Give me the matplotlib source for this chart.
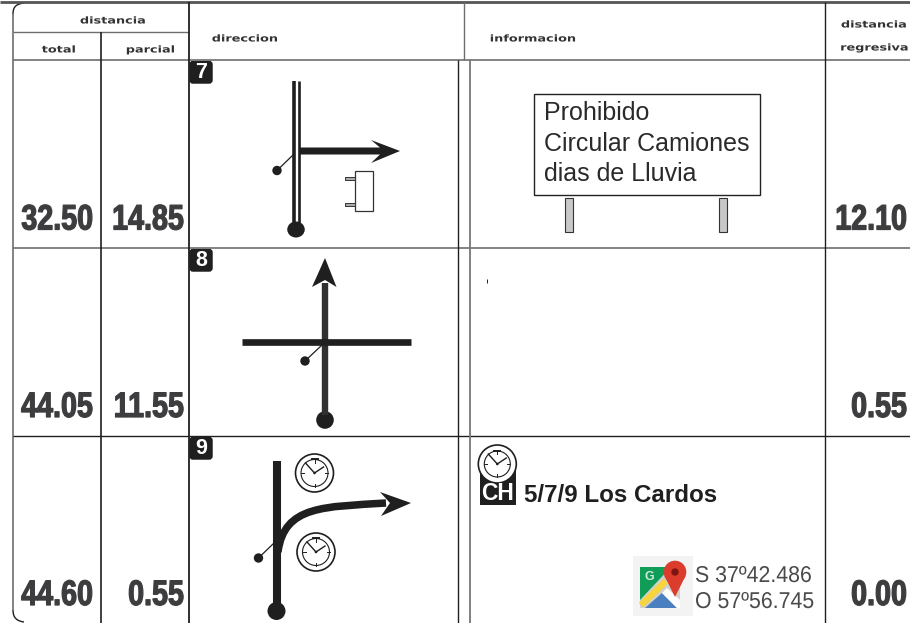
#!/usr/bin/env python3
import numpy as np
import matplotlib
matplotlib.use('Agg')
import matplotlib.pyplot as plt
import matplotlib.patheffects as pe
from matplotlib.patches import Circle, Ellipse, FancyBboxPatch, Polygon, Rectangle, PathPatch
from matplotlib.path import Path
from matplotlib.transforms import Affine2D

step_numbers = ['7', '8', '9']
total_km = ['32.50', '44.05', '44.60']
partial_km = ['14.85', '11.55', '0.55']
remaining_km = ['12.10', '0.55', '0.00']
sign_lines = ['Prohibido', 'Circular Camiones', 'dias de Lluvia']
info_text = '5/7/9 Los Cardos'
coords = ['S 37º42.486', 'O 57º56.745']

row_baselines = [229.5, 417, 605]
badge_tops = [61, 249, 437]

INK = '#1f1f1f'
NUM = '#3d3d3f'
GRID = '#6e6e6e'

fig = plt.figure(figsize=(9.10, 6.23), dpi=100)
ax = fig.add_axes([0, 0, 1, 1])
ax.set_xlim(0, 910)
ax.set_ylim(623, 0)
ax.axis('off')


class StretchX(pe.AbstractPathEffect):
    # squeeze or widen glyphs around the text anchor, no condensed font installed
    def __init__(self, x_anchor, factor, stroke=0):
        super().__init__()
        self.x_anchor = ax.transData.transform((x_anchor, 0))[0]
        self.factor = factor
        self.stroke = stroke

    def draw_path(self, renderer, gc, tpath, affine, rgbFace=None):
        squeeze = Affine2D().translate(-self.x_anchor, 0).scale(self.factor, 1).translate(self.x_anchor, 0)
        gc0 = renderer.new_gc()
        gc0.copy_properties(gc)
        if self.stroke:
            gc0.set_linewidth(self.stroke)
            gc0.set_foreground(rgbFace)
        renderer.draw_path(gc0, tpath, affine + squeeze, rgbFace)
        gc0.restore()


def stretched(x, y, s, factor, stroke=0, **kw):
    t = ax.text(x, y, s, **kw)
    t.set_path_effects([StretchX(x, factor, stroke)])
    return t


def hline(y, x0, x1, color=INK, lw=1.0):
    ax.plot([x0, x1], [y, y], color=color, lw=lw, solid_capstyle='butt')


def vline(x, y0, y1, color=INK, lw=1.0):
    ax.plot([x, x], [y0, y1], color=color, lw=lw, solid_capstyle='butt')


def leader(x0, y0, x1, y1):
    ax.plot([x0, x1], [y0, y1], color=INK, lw=0.9)
    ax.add_patch(Circle((x0, y0), 4.7, color=INK, lw=0))


def clock(cx, cy, r=19, r_in=13.5, lw=1.2):
    ax.add_patch(Circle((cx, cy), r, fc='white', ec=INK, lw=lw, zorder=4))
    ax.add_patch(Circle((cx, cy), r_in, fc='white', ec=INK, lw=0.8, zorder=4))
    for a in np.arange(0, 360, 90):
        s, c = np.sin(np.radians(a)), np.cos(np.radians(a))
        ax.plot([cx + s * (r_in - 3), cx + s * r_in], [cy - c * (r_in - 3), cy - c * r_in],
                color=INK, lw=0.7, zorder=5)
    ax.plot([cx - 3, cx + 3], [cy - r_in - 0.5, cy - r_in - 0.5], color=INK, lw=1.4, zorder=5)
    ax.plot([cx - 9, cx, cx + 9], [cy - 10, cy, cy - 6], color=INK, lw=1.0, zorder=5)
    ax.add_patch(Circle((cx, cy), 1.3, color=INK, lw=0, zorder=5))


# table frame
hline(1.5, 0, 910, color='#555555', lw=2.0)
vline(13, 14, 610, color=GRID, lw=1.2)
corner_top = Path([(13, 14), (13, 6), (17, 4), (24, 3)], [Path.MOVETO, Path.CURVE4, Path.CURVE4, Path.CURVE4])
corner_bot = Path([(13, 610), (13, 618), (17, 621), (24, 622)], [Path.MOVETO, Path.CURVE4, Path.CURVE4, Path.CURVE4])
ax.add_patch(PathPatch(corner_top, fc='none', ec=INK, lw=1.0))
ax.add_patch(PathPatch(corner_bot, fc='none', ec=INK, lw=1.0))
hline(31.5, 13, 189, color=GRID)
hline(60, 13, 910, color=GRID, lw=1.2)
hline(248, 13, 910, color=GRID, lw=1.2)
hline(436, 13, 910, color=INK, lw=1.0)
vline(101, 32, 623, lw=1.2)
vline(189, 2, 623, lw=1.3)
vline(464, 2, 60, color=GRID)
vline(458, 60, 623)
vline(470, 60, 623, color='#777777', lw=1.3)
vline(825, 2, 623)

# headers
head = dict(family='DejaVu Sans', weight='bold', fontsize=6.8, color='#333333', va='center', ha='center')
stretched(113, 21, 'distancia', 1.36, **head)
stretched(59, 50, 'total', 1.36, **head)
stretched(150.5, 50, 'parcial', 1.36, **head)
stretched(245, 39, 'direccion', 1.36, **head)
stretched(533, 39, 'informacion', 1.36, **head)
stretched(874, 25, 'distancia', 1.36, **head)
stretched(874.5, 48, 'regresiva', 1.36, **head)

# distance numbers and step badges
big = dict(family='Liberation Sans', weight='bold', fontsize=25.5, color=NUM, va='baseline', ha='right')
for i, base in enumerate(row_baselines):
    stretched(93, base, total_km[i], 0.81, stroke=0.9, **big)
    stretched(184, base, partial_km[i], 0.81, stroke=0.9, **big)
    stretched(907, base, remaining_km[i], 0.81, stroke=0.9, **big)
    top = badge_tops[i]
    ax.add_patch(FancyBboxPatch((191, top + 1.5), 20, 19.5, boxstyle='round,pad=0,rounding_size=2',
                                mutation_aspect=1, fc=INK, ec=INK, lw=2.5))
    ax.text(201, top + 11.5, step_numbers[i], family='Liberation Sans', weight='bold',
            fontsize=15.5, color='white', ha='center', va='center')

# step 7
vline(293.8, 81, 225, lw=2.6)
vline(298.7, 81, 225, lw=1.9)
ax.add_patch(Ellipse((296, 229.5), 17.5, 16, color=INK, lw=0))
ax.add_patch(Polygon([(299, 147.5), (380, 147.5), (371, 140), (400, 151), (371, 163),
                      (380, 154.5), (299, 154.5)], closed=True, fc=INK, ec='none'))
leader(277, 170.5, 293, 155)
ax.add_patch(Rectangle((355, 171), 17.5, 40, fc='white', ec='#333333', lw=0.9))
ax.add_patch(Rectangle((344.5, 176.5), 10.5, 3, fc='#aaaaaa', ec='#333333', lw=0.7))
ax.add_patch(Rectangle((344.5, 202.5), 10.5, 3, fc='#aaaaaa', ec='#333333', lw=0.7))

ax.add_patch(Rectangle((534, 94), 226, 101, fc='white', ec='#222222', lw=1.0))
for y, line in zip([120, 151, 181], sign_lines):
    ax.text(544, y, line, family='Liberation Sans', fontsize=18, color='#2a2a2a', va='baseline')
ax.add_patch(Rectangle((565, 197.5), 8, 34, fc='#c8c8c8', ec='#333333', lw=0.8))
ax.add_patch(Rectangle((719, 197.5), 8, 34, fc='#c8c8c8', ec='#333333', lw=0.8))

# step 8
vline(324.8, 283, 415, color='#303032', lw=4.6)
ax.add_patch(Circle((325, 420), 8.8, color=INK, lw=0))
ax.add_patch(Polygon([(325, 258), (336.5, 287), (325, 280), (312, 287)], closed=True, fc=INK, ec='none'))
hline(341.7, 242, 411, lw=4.8)
leader(305, 361, 322, 345)
vline(487, 279, 283, lw=0.7)

# step 9
vline(277, 461, 605, lw=5.8)
ax.add_patch(Circle((276.5, 611), 9, color=INK, lw=0))
curve = Path([(278, 552), (284, 505), (325, 507), (386, 503)],
             [Path.MOVETO, Path.CURVE4, Path.CURVE4, Path.CURVE4])
ax.add_patch(PathPatch(curve, fc='none', ec=INK, lw=5.4, capstyle='butt'))
ax.add_patch(Polygon([(411, 503), (381, 516), (390, 503), (380, 492)], closed=True, fc=INK, ec='none'))
leader(258.5, 558, 274, 543)
clock(314.5, 473)
clock(316, 552)

# info cell of step 9
ax.add_patch(Rectangle((480, 470), 35.5, 35, fc=INK, ec='none'))
clock(497.3, 464, r=19, r_in=13, lw=1.2)
ax.text(497.5, 494, 'CH', family='Liberation Sans', weight='bold', fontsize=16.5, color='white',
        ha='center', va='center', zorder=6)
ax.text(524, 502, info_text, family='Liberation Sans', weight='bold', fontsize=17.4, color=INK, va='baseline')

# maps icon
ax.add_patch(Rectangle((633, 556), 60, 60, fc='#f3f3f3', ec='none'))
ax.add_patch(Polygon([(640, 567), (680, 567), (680, 608), (640, 608)], closed=True, fc='#d0d0cc', ec='none'))
ax.add_patch(Polygon([(640, 567), (671, 567), (640, 600)], closed=True, fc='#0f9d58', ec='none'))
ax.add_patch(Polygon([(645, 608), (662, 593), (677, 608)], closed=True, fc='#4a80c0', ec='none'))
ax.add_patch(Polygon([(662, 593), (667, 588), (680, 600), (680, 608), (677, 608)], closed=True, fc='white', ec='none'))
ax.plot([641, 666], [605, 581], color='#f7d33c', lw=4.6, solid_capstyle='butt')
ax.text(649, 577, 'G', family='Liberation Sans', weight='bold', fontsize=9, color='#cfe8d8', ha='center', va='center')
ax.add_patch(Circle((675, 572), 11.3, color='#db3c2c', lw=0))
ax.add_patch(Polygon([(664.5, 576), (685.5, 576), (675, 597)], closed=True, fc='#db3c2c', ec='none'))
ax.add_patch(Circle((675, 572), 3.7, color='#7f1512', lw=0))
for y, line in zip([582, 608], coords):
    stretched(695, y, line, 0.93, family='Liberation Sans', fontsize=16.5, color='#4a4a4a', va='baseline')

fig.savefig('out.png', dpi=100)
